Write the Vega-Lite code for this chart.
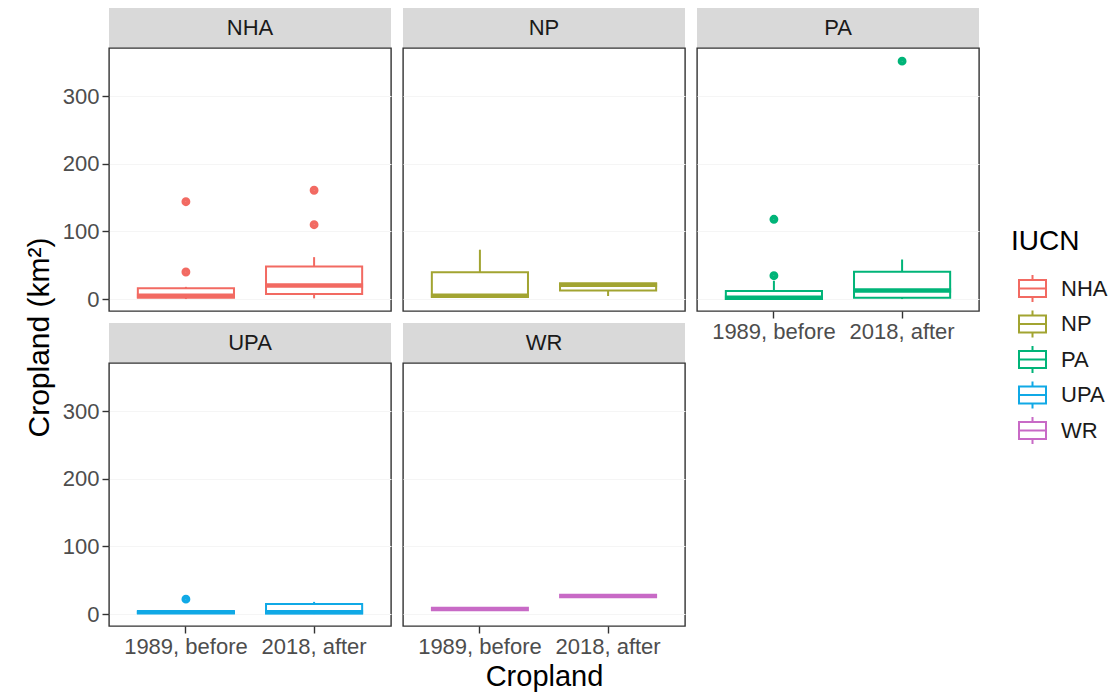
{
  "$schema": "https://vega.github.io/schema/vega-lite/v6.json",
  "padding": {"left": 23, "top": 8, "right": 5, "bottom": 5},
  "data": {"values": [
    {"IUCN":"NHA","period":"1989, before","kind":"box","lower":0,"q1":2,"median":5,"q3":16,"upper":18},
    {"IUCN":"NHA","period":"2018, after","kind":"box","lower":1,"q1":7.5,"median":20,"q3":48,"upper":62},
    {"IUCN":"NP","period":"1989, before","kind":"box","lower":3,"q1":3.5,"median":5,"q3":39.5,"upper":73},
    {"IUCN":"NP","period":"2018, after","kind":"box","lower":4.5,"q1":12.5,"median":21,"q3":23,"upper":23},
    {"IUCN":"PA","period":"1989, before","kind":"box","lower":0,"q1":0,"median":2,"q3":12,"upper":27},
    {"IUCN":"PA","period":"2018, after","kind":"box","lower":0,"q1":2,"median":12.5,"q3":40.5,"upper":58.5},
    {"IUCN":"UPA","period":"1989, before","kind":"box","lower":0.5,"q1":1.5,"median":2.5,"q3":3.5,"upper":3.5},
    {"IUCN":"UPA","period":"2018, after","kind":"box","lower":0,"q1":1,"median":2.5,"q3":15,"upper":18},
    {"IUCN":"WR","period":"1989, before","kind":"box","lower":7.4,"q1":7.4,"median":7.4,"q3":7.4,"upper":7.4},
    {"IUCN":"WR","period":"2018, after","kind":"box","lower":26.6,"q1":26.6,"median":26.6,"q3":26.6,"upper":26.6},
    {"IUCN":"NHA","period":"1989, before","kind":"outlier","value":144},
    {"IUCN":"NHA","period":"1989, before","kind":"outlier","value":40},
    {"IUCN":"NHA","period":"2018, after","kind":"outlier","value":161},
    {"IUCN":"NHA","period":"2018, after","kind":"outlier","value":110},
    {"IUCN":"PA","period":"1989, before","kind":"outlier","value":118},
    {"IUCN":"PA","period":"1989, before","kind":"outlier","value":34.5},
    {"IUCN":"PA","period":"2018, after","kind":"outlier","value":352},
    {"IUCN":"UPA","period":"1989, before","kind":"outlier","value":22}
  ]},
  "config": {
    "font": "Liberation Sans",
    "view": {"stroke": "#333333", "strokeWidth": 1.4},
    "axis": {"labelFont": "Liberation Sans", "titleFont": "Liberation Sans"},
    "legend": {"labelFont": "Liberation Sans", "titleFont": "Liberation Sans"}
  },
  "columns": 3,
  "spacing": {"row": 0, "column": 12},
  "bounds": "flush",
  "resolve": {"scale": {"color": "shared"}, "legend": {"color": "shared"}},
  "concat": [
    {"width": 282, "height": 40, "view": {"fill": "#d9d9d9"},
     "transform": [{"filter": "datum.IUCN == 'NHA' && datum.kind == 'box' && datum.period == '1989, before'"}],
     "mark": {"type": "text", "fontSize": 22, "color": "#1a1a1a"},
     "encoding": {"text": {"field": "IUCN", "type": "nominal"}}},
    {"width": 282, "height": 40, "view": {"fill": "#d9d9d9"},
     "transform": [{"filter": "datum.IUCN == 'NP' && datum.kind == 'box' && datum.period == '1989, before'"}],
     "mark": {"type": "text", "fontSize": 22, "color": "#1a1a1a"},
     "encoding": {"text": {"field": "IUCN", "type": "nominal"}}},
    {"width": 282, "height": 40, "view": {"fill": "#d9d9d9"},
     "transform": [{"filter": "datum.IUCN == 'PA' && datum.kind == 'box' && datum.period == '1989, before'"}],
     "mark": {"type": "text", "fontSize": 22, "color": "#1a1a1a"},
     "encoding": {"text": {"field": "IUCN", "type": "nominal"}}},

    {"width": 282, "height": 263,
     "transform": [{"filter": "datum.IUCN == 'NHA'"}],
     "encoding": {
       "x": {"field": "period", "type": "nominal", "scale": {"domain": ["1989, before", "2018, after"], "paddingInner": 0.25, "paddingOuter": 0.225},
             "axis": {"labels": false, "ticks": false, "domain": false, "grid": false, "title": null}},
       "color": {"field": "IUCN", "type": "nominal",
                 "scale": {"domain": ["NHA","NP","PA","UPA","WR"], "range": ["#F26A62","#A2A431","#00B478","#10A9E6","#C86AC6"]},
                 "legend": {"title": "IUCN", "orient": "none", "legendX": 902, "legendY": 220, "padding": 0,
                            "titleFontSize": 28, "titleFontWeight": "normal", "titleColor": "#000000", "titlePadding": 18,
                            "labelFontSize": 22, "labelColor": "#1a1a1a", "labelOffset": 14,
                            "symbolType": "M-1,-0.63H1V0.63H-1Z M-1,0H1 M0,-1V-0.63 M0,0.63V1",
                            "symbolSize": 729, "symbolOffset": 7, "rowPadding": 0.5, "symbolFillColor": "transparent", "symbolStrokeWidth": 2}}
     },
     "layer": [
       {"transform": [{"filter": "datum.kind == 'box'"}], "mark": {"type": "rule", "strokeWidth": 2},
        "encoding": {"y": {"field": "lower", "type": "quantitative", "scale": {"domain": [-17.7, 371.5], "nice": false, "zero": false},
                           "axis": {"values": [0,100,200,300], "title": null, "labelFontSize": 22, "labelColor": "#4d4d4d", "tickColor": "#333333", "tickSize": 7, "tickWidth": 1.4, "labelPadding": 3, "domain": false, "grid": true, "gridColor": "#f5f5f5"}},
                     "y2": {"field": "q1"}}},
       {"transform": [{"filter": "datum.kind == 'box'"}], "mark": {"type": "rule", "strokeWidth": 2},
        "encoding": {"y": {"field": "q3", "type": "quantitative"}, "y2": {"field": "upper"}}},
       {"transform": [{"filter": "datum.kind == 'box'"}], "mark": {"type": "bar", "filled": false, "strokeWidth": 2},
        "encoding": {"y": {"field": "q1", "type": "quantitative"}, "y2": {"field": "q3"}}},
       {"transform": [{"filter": "datum.kind == 'box'"}], "mark": {"type": "tick", "filled": false, "thickness": 0.5, "strokeWidth": 4, "size": 94, "opacity": 1},
        "encoding": {"y": {"field": "median", "type": "quantitative"}}},
       {"transform": [{"filter": "datum.kind == 'outlier'"}], "mark": {"type": "point", "filled": false, "size": 17.35, "strokeWidth": 4.7, "opacity": 1},
        "encoding": {"y": {"field": "value", "type": "quantitative"}}}
     ]},
    {"width": 282, "height": 263,
     "transform": [{"filter": "datum.IUCN == 'NP'"}],
     "encoding": {
       "x": {"field": "period", "type": "nominal", "scale": {"domain": ["1989, before", "2018, after"], "paddingInner": 0.25, "paddingOuter": 0.225},
             "axis": {"labels": false, "ticks": false, "domain": false, "grid": false, "title": null}},
       "color": {"field": "IUCN", "type": "nominal",
                 "scale": {"domain": ["NHA","NP","PA","UPA","WR"], "range": ["#F26A62","#A2A431","#00B478","#10A9E6","#C86AC6"]},
                 "legend": {"title": "IUCN", "orient": "none", "legendX": 902, "legendY": 220, "padding": 0,
                            "titleFontSize": 28, "titleFontWeight": "normal", "titleColor": "#000000", "titlePadding": 18,
                            "labelFontSize": 22, "labelColor": "#1a1a1a", "labelOffset": 14,
                            "symbolType": "M-1,-0.63H1V0.63H-1Z M-1,0H1 M0,-1V-0.63 M0,0.63V1",
                            "symbolSize": 729, "symbolOffset": 7, "rowPadding": 0.5, "symbolFillColor": "transparent", "symbolStrokeWidth": 2}}
     },
     "layer": [
       {"transform": [{"filter": "datum.kind == 'box'"}], "mark": {"type": "rule", "strokeWidth": 2},
        "encoding": {"y": {"field": "lower", "type": "quantitative", "scale": {"domain": [-17.7, 371.5], "nice": false, "zero": false},
                           "axis": {"values": [0,100,200,300], "title": null, "labels": false, "ticks": false, "domain": false, "grid": true, "gridColor": "#f5f5f5"}},
                     "y2": {"field": "q1"}}},
       {"transform": [{"filter": "datum.kind == 'box'"}], "mark": {"type": "rule", "strokeWidth": 2},
        "encoding": {"y": {"field": "q3", "type": "quantitative"}, "y2": {"field": "upper"}}},
       {"transform": [{"filter": "datum.kind == 'box'"}], "mark": {"type": "bar", "filled": false, "strokeWidth": 2},
        "encoding": {"y": {"field": "q1", "type": "quantitative"}, "y2": {"field": "q3"}}},
       {"transform": [{"filter": "datum.kind == 'box'"}], "mark": {"type": "tick", "filled": false, "thickness": 0.5, "strokeWidth": 4, "size": 94, "opacity": 1},
        "encoding": {"y": {"field": "median", "type": "quantitative"}}},
       {"transform": [{"filter": "datum.kind == 'outlier'"}], "mark": {"type": "point", "filled": false, "size": 17.35, "strokeWidth": 4.7, "opacity": 1},
        "encoding": {"y": {"field": "value", "type": "quantitative"}}}
     ]},
    {"width": 282, "height": 263,
     "transform": [{"filter": "datum.IUCN == 'PA'"}],
     "encoding": {
       "x": {"field": "period", "type": "nominal", "scale": {"domain": ["1989, before", "2018, after"], "paddingInner": 0.25, "paddingOuter": 0.225},
             "axis": {"title": null, "labelAngle": 0, "labelFontSize": 22, "labelColor": "#4d4d4d", "tickColor": "#333333", "tickSize": 7, "tickWidth": 1.4, "labelPadding": 3, "domain": false, "grid": false}},
       "color": {"field": "IUCN", "type": "nominal",
                 "scale": {"domain": ["NHA","NP","PA","UPA","WR"], "range": ["#F26A62","#A2A431","#00B478","#10A9E6","#C86AC6"]},
                 "legend": {"title": "IUCN", "orient": "none", "legendX": 902, "legendY": 220, "padding": 0,
                            "titleFontSize": 28, "titleFontWeight": "normal", "titleColor": "#000000", "titlePadding": 18,
                            "labelFontSize": 22, "labelColor": "#1a1a1a", "labelOffset": 14,
                            "symbolType": "M-1,-0.63H1V0.63H-1Z M-1,0H1 M0,-1V-0.63 M0,0.63V1",
                            "symbolSize": 729, "symbolOffset": 7, "rowPadding": 0.5, "symbolFillColor": "transparent", "symbolStrokeWidth": 2}}
     },
     "layer": [
       {"transform": [{"filter": "datum.kind == 'box'"}], "mark": {"type": "rule", "strokeWidth": 2},
        "encoding": {"y": {"field": "lower", "type": "quantitative", "scale": {"domain": [-17.7, 371.5], "nice": false, "zero": false},
                           "axis": {"values": [0,100,200,300], "title": null, "labels": false, "ticks": false, "domain": false, "grid": true, "gridColor": "#f5f5f5"}},
                     "y2": {"field": "q1"}}},
       {"transform": [{"filter": "datum.kind == 'box'"}], "mark": {"type": "rule", "strokeWidth": 2},
        "encoding": {"y": {"field": "q3", "type": "quantitative"}, "y2": {"field": "upper"}}},
       {"transform": [{"filter": "datum.kind == 'box'"}], "mark": {"type": "bar", "filled": false, "strokeWidth": 2},
        "encoding": {"y": {"field": "q1", "type": "quantitative"}, "y2": {"field": "q3"}}},
       {"transform": [{"filter": "datum.kind == 'box'"}], "mark": {"type": "tick", "filled": false, "thickness": 0.5, "strokeWidth": 4, "size": 94, "opacity": 1},
        "encoding": {"y": {"field": "median", "type": "quantitative"}}},
       {"transform": [{"filter": "datum.kind == 'outlier'"}], "mark": {"type": "point", "filled": false, "size": 17.35, "strokeWidth": 4.7, "opacity": 1},
        "encoding": {"y": {"field": "value", "type": "quantitative"}}}
     ]},

    {"width": 282, "height": 12, "view": {"stroke": null}, "transform": [{"filter": "false"}], "mark": {"type": "text"}, "encoding": {}},
    {"width": 282, "height": 12, "view": {"stroke": null}, "transform": [{"filter": "false"}], "mark": {"type": "text"}, "encoding": {}},
    {"width": 282, "height": 12, "view": {"stroke": null}, "transform": [{"filter": "false"}], "mark": {"type": "text"}, "encoding": {}},

    {"width": 282, "height": 40, "view": {"fill": "#d9d9d9"},
     "transform": [{"filter": "datum.IUCN == 'UPA' && datum.kind == 'box' && datum.period == '1989, before'"}],
     "mark": {"type": "text", "fontSize": 22, "color": "#1a1a1a"},
     "encoding": {"text": {"field": "IUCN", "type": "nominal"}}},
    {"width": 282, "height": 40, "view": {"fill": "#d9d9d9"},
     "transform": [{"filter": "datum.IUCN == 'WR' && datum.kind == 'box' && datum.period == '1989, before'"}],
     "mark": {"type": "text", "fontSize": 22, "color": "#1a1a1a"},
     "encoding": {"text": {"field": "IUCN", "type": "nominal"}}},
    {"width": 282, "height": 40, "view": {"stroke": null}, "transform": [{"filter": "false"}], "mark": {"type": "text"}, "encoding": {}},

    {"width": 282, "height": 263,
     "transform": [{"filter": "datum.IUCN == 'UPA'"}],
     "encoding": {
       "x": {"field": "period", "type": "nominal", "scale": {"domain": ["1989, before", "2018, after"], "paddingInner": 0.25, "paddingOuter": 0.225},
             "axis": {"title": null, "labelAngle": 0, "labelFontSize": 22, "labelColor": "#4d4d4d", "tickColor": "#333333", "tickSize": 7, "tickWidth": 1.4, "labelPadding": 3, "domain": false, "grid": false}},
       "color": {"field": "IUCN", "type": "nominal",
                 "scale": {"domain": ["NHA","NP","PA","UPA","WR"], "range": ["#F26A62","#A2A431","#00B478","#10A9E6","#C86AC6"]},
                 "legend": {"title": "IUCN", "orient": "none", "legendX": 902, "legendY": 220, "padding": 0,
                            "titleFontSize": 28, "titleFontWeight": "normal", "titleColor": "#000000", "titlePadding": 18,
                            "labelFontSize": 22, "labelColor": "#1a1a1a", "labelOffset": 14,
                            "symbolType": "M-1,-0.63H1V0.63H-1Z M-1,0H1 M0,-1V-0.63 M0,0.63V1",
                            "symbolSize": 729, "symbolOffset": 7, "rowPadding": 0.5, "symbolFillColor": "transparent", "symbolStrokeWidth": 2}}
     },
     "layer": [
       {"transform": [{"filter": "datum.kind == 'box'"}], "mark": {"type": "rule", "strokeWidth": 2},
        "encoding": {"y": {"field": "lower", "type": "quantitative", "scale": {"domain": [-17.7, 371.5], "nice": false, "zero": false},
                           "axis": {"values": [0,100,200,300], "title": "Cropland (km²)", "titleFontSize": 30, "titleFontWeight": "normal", "titleColor": "#000000", "titleY": -26, "titlePadding": 8,
                                    "labelFontSize": 22, "labelColor": "#4d4d4d", "tickColor": "#333333", "tickSize": 7, "tickWidth": 1.4, "labelPadding": 3, "domain": false, "grid": true, "gridColor": "#f5f5f5"}},
                     "y2": {"field": "q1"}}},
       {"transform": [{"filter": "datum.kind == 'box'"}], "mark": {"type": "rule", "strokeWidth": 2},
        "encoding": {"y": {"field": "q3", "type": "quantitative"}, "y2": {"field": "upper"}}},
       {"transform": [{"filter": "datum.kind == 'box'"}], "mark": {"type": "bar", "filled": false, "strokeWidth": 2},
        "encoding": {"y": {"field": "q1", "type": "quantitative"}, "y2": {"field": "q3"}}},
       {"transform": [{"filter": "datum.kind == 'box'"}], "mark": {"type": "tick", "filled": false, "thickness": 0.5, "strokeWidth": 4, "size": 94, "opacity": 1},
        "encoding": {"y": {"field": "median", "type": "quantitative"}}},
       {"transform": [{"filter": "datum.kind == 'outlier'"}], "mark": {"type": "point", "filled": false, "size": 17.35, "strokeWidth": 4.7, "opacity": 1},
        "encoding": {"y": {"field": "value", "type": "quantitative"}}}
     ]},
    {"width": 282, "height": 263,
     "transform": [{"filter": "datum.IUCN == 'WR'"}],
     "encoding": {
       "x": {"field": "period", "type": "nominal", "scale": {"domain": ["1989, before", "2018, after"], "paddingInner": 0.25, "paddingOuter": 0.225},
             "axis": {"title": "Cropland", "titleFontSize": 29, "titleFontWeight": "normal", "titleColor": "#000000", "titlePadding": 5,
                      "labelAngle": 0, "labelFontSize": 22, "labelColor": "#4d4d4d", "tickColor": "#333333", "tickSize": 7, "tickWidth": 1.4, "labelPadding": 3, "domain": false, "grid": false}},
       "color": {"field": "IUCN", "type": "nominal",
                 "scale": {"domain": ["NHA","NP","PA","UPA","WR"], "range": ["#F26A62","#A2A431","#00B478","#10A9E6","#C86AC6"]},
                 "legend": {"title": "IUCN", "orient": "none", "legendX": 902, "legendY": 220, "padding": 0,
                            "titleFontSize": 28, "titleFontWeight": "normal", "titleColor": "#000000", "titlePadding": 18,
                            "labelFontSize": 22, "labelColor": "#1a1a1a", "labelOffset": 14,
                            "symbolType": "M-1,-0.63H1V0.63H-1Z M-1,0H1 M0,-1V-0.63 M0,0.63V1",
                            "symbolSize": 729, "symbolOffset": 7, "rowPadding": 0.5, "symbolFillColor": "transparent", "symbolStrokeWidth": 2}}
     },
     "layer": [
       {"transform": [{"filter": "datum.kind == 'box'"}], "mark": {"type": "rule", "strokeWidth": 2},
        "encoding": {"y": {"field": "lower", "type": "quantitative", "scale": {"domain": [-17.7, 371.5], "nice": false, "zero": false},
                           "axis": {"values": [0,100,200,300], "title": null, "labels": false, "ticks": false, "domain": false, "grid": true, "gridColor": "#f5f5f5"}},
                     "y2": {"field": "q1"}}},
       {"transform": [{"filter": "datum.kind == 'box'"}], "mark": {"type": "rule", "strokeWidth": 2},
        "encoding": {"y": {"field": "q3", "type": "quantitative"}, "y2": {"field": "upper"}}},
       {"transform": [{"filter": "datum.kind == 'box'"}], "mark": {"type": "bar", "filled": false, "strokeWidth": 2},
        "encoding": {"y": {"field": "q1", "type": "quantitative"}, "y2": {"field": "q3"}}},
       {"transform": [{"filter": "datum.kind == 'box'"}], "mark": {"type": "tick", "filled": false, "thickness": 0.5, "strokeWidth": 4, "size": 94, "opacity": 1},
        "encoding": {"y": {"field": "median", "type": "quantitative"}}},
       {"transform": [{"filter": "datum.kind == 'outlier'"}], "mark": {"type": "point", "filled": false, "size": 17.35, "strokeWidth": 4.7, "opacity": 1},
        "encoding": {"y": {"field": "value", "type": "quantitative"}}}
     ]}
  ]
}
